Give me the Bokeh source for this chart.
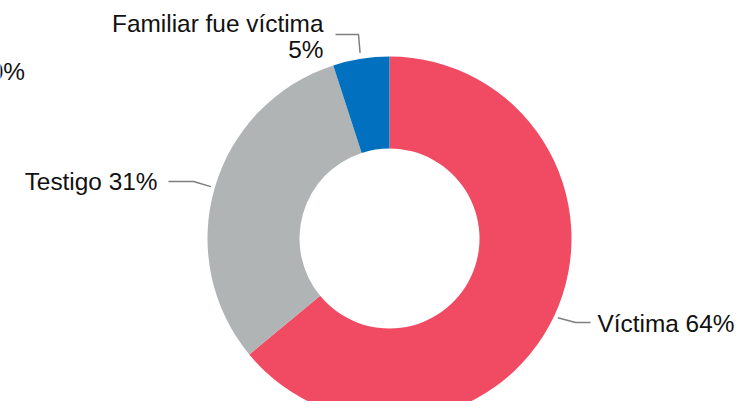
import numpy as np
from bokeh.plotting import figure
from bokeh.models import Range1d, ColumnDataSource
from bokeh.core.properties import value
from bokeh.embed import file_html
from bokeh.resources import INLINE

categories = ["Víctima", "Testigo", "Familiar fue víctima"]
values = [64, 31, 5]
colors = ["#F04B63", "#B0B4B5", "#0070BF"]
hidden_label = "0%"

W, H = 735, 401
p = figure(width=W, height=H, output_backend="svg", toolbar_location=None,
           x_range=Range1d(0, W), y_range=Range1d(0, H),
           min_border=0)
p.axis.visible = False
p.grid.visible = False
p.outline_line_color = None
p.background_fill_color = "white"

def Y(y):
    return H - y

cx, cy = 389, Y(238)
R_out, R_in = 182, 90

frac = np.array(values) / sum(values)
ends = np.cumsum(frac)
starts = ends - frac
start_ang = np.pi / 2 - starts * 2 * np.pi
end_ang = np.pi / 2 - ends * 2 * np.pi
src = ColumnDataSource(dict(start=start_ang, end=end_ang, color=colors))
p.annular_wedge(x=cx, y=cy, inner_radius=R_in, outer_radius=R_out,
                start_angle="start", end_angle="end", direction="clock",
                fill_color="color", line_color=None, source=src)

mid = np.pi / 2 - (starts + frac / 2) * 2 * np.pi
font = value("Liberation Sans")
fs = "24.4px"
lc = "#7F7F7F"
tc = "#111111"
dy = 9  # baseline correction

# Víctima leader + label
r0 = R_out + 4
x0, y0 = cx + r0 * np.cos(mid[0]), cy + r0 * np.sin(mid[0])
p.line([x0, 575, 590], [y0, Y(322), Y(322)], line_color=lc, line_width=1.5)
p.text(x=[597], y=[Y(331.5 - dy)], text=[f"{categories[0]} {values[0]}%"],
       text_font=font, text_font_size=fs, text_align="left",
       text_baseline="alphabetic", text_color=tc)

# Testigo leader + label
x1, y1 = cx + r0 * np.cos(mid[1]), cy + r0 * np.sin(mid[1])
p.line([x1, 193, 168], [y1, Y(181), Y(181)], line_color=lc, line_width=1.5)
p.text(x=[157], y=[Y(189.5 - dy)], text=[f"{categories[1]} {values[1]}%"],
       text_font=font, text_font_size=fs, text_align="right",
       text_baseline="alphabetic", text_color=tc)

# Familiar leader + label
r2 = R_out + 6
x2, y2 = cx + r2 * np.cos(mid[2]), cy + r2 * np.sin(mid[2])
p.line([x2, 358, 335], [y2, Y(34), Y(34)], line_color=lc, line_width=1.5)
p.text(x=[323], y=[Y(31.5 - dy)], text=[categories[2]],
       text_font=font, text_font_size=fs, text_align="right",
       text_baseline="alphabetic", text_color=tc)
p.text(x=[323], y=[Y(58.3 - dy)], text=[f"{values[2]}%"],
       text_font=font, text_font_size=fs, text_align="right",
       text_baseline="alphabetic", text_color=tc)

# label partially hidden at the left edge (as in the reference)
p.text(x=[24.5], y=[Y(79.5 - dy)], text=[hidden_label],
       text_font=font, text_font_size=fs, text_align="right",
       text_baseline="alphabetic", text_color=tc)

open("out.html", "w").write(file_html(p, INLINE))
